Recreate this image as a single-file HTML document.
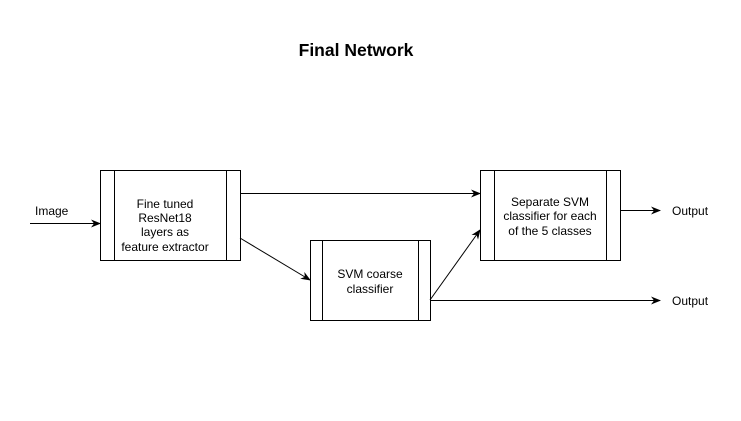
<!DOCTYPE html>
<html><head><style>body{margin:0;background:#fff}svg{display:block}</style></head><body>
<svg width="741" height="421" viewBox="0 0 741 421" xmlns="http://www.w3.org/2000/svg" font-family="Liberation Sans, sans-serif" font-size="12">
<defs><marker id="a" markerWidth="10" markerHeight="8" refX="9" refY="4" orient="auto" markerUnits="userSpaceOnUse"><path d="M0,0 L10,4 L0,8 L3,4 Z" fill="#000"/></marker></defs>
<rect width="741" height="421" fill="#fff"/>
<text x="356" y="56" text-anchor="middle" font-weight="bold" font-size="17.5">Final Network</text>
<g fill="#fff" stroke="#000" stroke-width="1">
<rect x="100.5" y="170.5" width="140" height="90"/><line x1="114.5" y1="170.5" x2="114.5" y2="260.5"/><line x1="226.5" y1="170.5" x2="226.5" y2="260.5"/>
<rect x="310.5" y="240.5" width="120" height="80"/><line x1="322.5" y1="240.5" x2="322.5" y2="320.5"/><line x1="418.5" y1="240.5" x2="418.5" y2="320.5"/>
<rect x="480.5" y="170.5" width="140" height="90"/><line x1="494.5" y1="170.5" x2="494.5" y2="260.5"/><line x1="606.5" y1="170.5" x2="606.5" y2="260.5"/>
</g>
<g stroke="#000" fill="none">
<line x1="30" y1="223.5" x2="100" y2="223.5" marker-end="url(#a)"/>
<line x1="240" y1="193.5" x2="480" y2="193.5" marker-end="url(#a)"/>
<line x1="240" y1="238" x2="310" y2="280" marker-end="url(#a)"/>
<line x1="430" y1="300" x2="480" y2="230" marker-end="url(#a)"/>
<line x1="430" y1="300.5" x2="660" y2="300.5" marker-end="url(#a)"/>
<line x1="620" y1="210.5" x2="660" y2="210.5" marker-end="url(#a)"/>
</g>
<text x="35" y="215">Image</text>
<text x="672" y="215">Output</text>
<text x="672" y="305">Output</text>
<g text-anchor="middle">
<text x="165" y="208">Fine tuned</text><text x="165" y="222">ResNet18</text><text x="165" y="236">layers as</text><text x="165" y="251">feature extractor</text>
<text x="370" y="278">SVM coarse</text><text x="370" y="293">classifier</text>
<text x="550" y="206">Separate SVM</text><text x="550" y="220">classifier for each</text><text x="550" y="235">of the 5 classes</text>
</g>
</svg>
</body></html>
